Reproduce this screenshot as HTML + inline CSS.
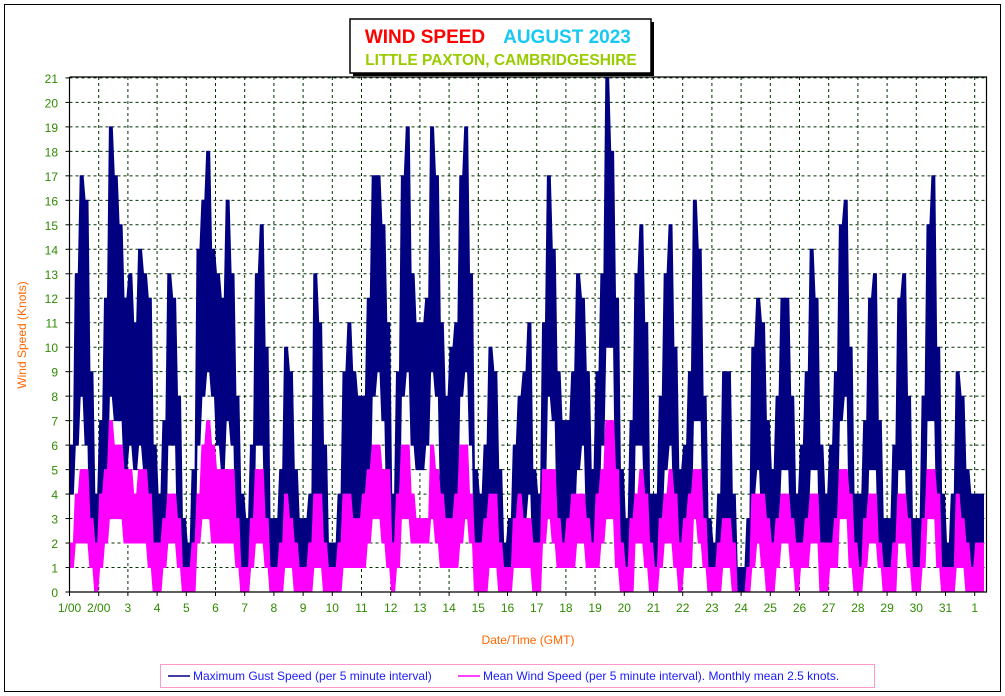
<!DOCTYPE html>
<html><head><meta charset="utf-8"><style>
body{margin:0;background:#fff;}
svg{display:block;font-family:"Liberation Sans",Arial,sans-serif;}
</style></head><body>
<svg id="chart" width="1005" height="696" viewBox="0 0 1005 696" xmlns="http://www.w3.org/2000/svg">
<rect x="4.5" y="4.5" width="996" height="687" fill="#fff" stroke="#000" stroke-width="1"/>
<g id="grid"></g>
<g id="series"></g>
<g id="axes"></g>
<g>
<rect x="353" y="22" width="301" height="54" fill="#000"/>
<rect x="350" y="19" width="301" height="54" fill="#fff" stroke="#000" stroke-width="1.5"/>
<text x="425" y="43" text-anchor="middle" font-size="19" font-weight="bold" fill="#ff0000">WIND SPEED</text>
<text x="567" y="43" text-anchor="middle" font-size="19" font-weight="bold" fill="#17c8f5">AUGUST 2023</text>
<text x="501" y="65" text-anchor="middle" font-size="15.5" font-weight="bold" fill="#99cc00">LITTLE PAXTON, CAMBRIDGESHIRE</text>
</g>
<text transform="translate(26,335) rotate(-90)" text-anchor="middle" font-size="12" fill="#ff6600">Wind Speed (Knots)</text>
<text x="528" y="644" text-anchor="middle" font-size="12" fill="#ff6600">Date/Time (GMT)</text>
<g>
<rect x="160.5" y="664.5" width="714" height="23" fill="#fff" stroke="#ff99cc" stroke-width="1"/>
<line x1="168" y1="676" x2="190" y2="676" stroke="#000080" stroke-width="1.5"/>
<text x="193" y="680" font-size="12" fill="#1a1aff">Maximum Gust Speed (per 5 minute interval)</text>
<line x1="458" y1="676" x2="480" y2="676" stroke="#ff00ff" stroke-width="1.5"/>
<text x="483" y="680" font-size="12" fill="#1a1aff">Mean Wind Speed (per 5 minute interval). Monthly mean 2.5 knots.</text>
</g>
</svg>
<script>
// 4-hourly bins, 6 per day, starting 1 Aug 00:00
const gustHigh=[6,13,17,16,9,4, 7,12,19,17,15,12, 13,11,14,13,12,6, 4,7,13,12,8,3, 2,5,14,16,18,14, 13,12,16,13,8,4, 3,6,13,15,10,3, 3,5,10,9,5,3, 3,4,13,11,6,2, 2,4,9,11,9,8, 8,12,17,17,15,11, 4,9,17,19,13,11, 11,12,19,17,11,8, 10,11,17,19,13,5, 4,6,10,9,5,2, 3,6,8,9,11,5, 4,11,17,14,9,7, 7,9,13,12,9,5, 9,13,21,18,12,5, 3,7,13,15,11,4, 4,8,13,15,10,5, 6,9,16,14,8,3, 2,4,9,9,4,1, 1,3,10,12,11,7, 5,8,12,12,8,4, 6,9,14,12,6,4, 6,9,15,16,10,4, 4,7,12,13,7,3, 3,6,12,13,8,3, 3,8,15,17,10,4, 2,4,9,8,5,4, 4,4];
const gustLow=[4,6,8,6,2,0, 2,5,8,7,7,5, 6,5,6,5,3,1, 1,2,6,6,2,0, 0,1,6,8,9,8, 6,5,7,6,2,0, 0,1,6,6,2,0, 1,1,3,3,1,0, 0,1,4,3,1,0, 0,1,3,4,3,3, 3,4,8,9,7,3, 0,3,8,9,6,5, 5,6,9,8,4,3, 3,4,8,9,6,1, 1,2,3,3,1,0, 0,2,3,3,4,1, 1,4,8,7,3,2, 2,3,5,6,3,1, 3,6,10,10,4,1, 0,1,6,6,3,0, 0,3,5,6,3,1, 1,3,7,7,2,0, 0,1,3,3,1,0, 0,0,4,5,3,2, 1,3,5,5,2,1, 2,3,5,5,1,1, 2,3,7,8,3,0, 0,2,5,5,2,0, 0,1,5,5,2,0, 0,2,7,7,3,1, 0,0,3,3,1,0, 1,1];
const meanHigh=[2,4,5,5,3,2, 4,5,7,6,6,5, 5,4,5,5,4,2, 2,3,4,4,3,1, 1,2,4,6,7,6, 5,5,5,5,3,1, 1,3,5,5,3,1, 1,2,4,3,2,1, 1,2,4,4,2,1, 1,2,4,4,3,3, 4,5,6,6,5,5, 2,4,6,6,4,3, 3,3,6,5,4,3, 3,4,6,6,4,2, 2,3,4,4,2,1, 1,3,4,3,3,2, 2,5,5,5,3,2, 3,4,4,4,3,2, 4,5,7,7,5,2, 1,3,4,5,4,2, 1,3,4,5,4,2, 3,4,5,5,3,1, 1,2,3,3,2,0, 0,1,4,4,4,3, 2,3,4,4,3,2, 2,3,4,4,2,2, 2,3,5,5,4,2, 1,3,4,4,2,1, 1,2,4,4,3,1, 1,3,5,5,4,1, 1,1,4,3,2,1, 2,2];
const meanLow=[1,2,2,2,1,0, 1,2,3,3,3,2, 2,2,2,2,1,0, 0,1,2,2,1,0, 0,0,2,3,3,2, 2,2,2,2,1,0, 0,1,2,2,1,0, 0,0,1,1,0,0, 0,0,1,1,0,0, 0,0,1,1,1,1, 1,2,3,3,2,1, 0,1,3,3,2,2, 2,2,3,2,1,1, 1,1,2,3,2,0, 0,0,1,1,0,0, 0,1,1,1,1,0, 0,2,3,2,1,1, 1,1,2,2,1,1, 1,2,3,3,1,0, 0,0,2,2,1,0, 0,1,2,2,1,0, 1,1,3,2,1,0, 0,0,1,1,0,0, 0,0,1,2,1,0, 0,1,2,2,1,0, 1,1,2,2,0,0, 1,1,3,3,1,0, 0,1,2,2,1,0, 0,0,2,2,1,0, 0,1,3,3,1,0, 0,0,1,1,0,0, 0,0];
const dayLabels=["1/00","2/00","3","4","5","6","7","8","9","10","11","12","13","14","15","16","17","18","19","20","21","22","23","24","25","26","27","28","29","30","31","1"];
const yTicks=[0,1,2,3,4,5,6,7,8,9,10,11,12,13,14,15,16,17,18,19,20,21];

const NS="http://www.w3.org/2000/svg";
const X0=69.5, DAYW=29.2, XR=986.5, Y0=592, YK=24.48;
const xs=t=>X0+t*DAYW;
const ys=v=>Y0-v*YK;
function mk(tag,attrs,parent){const e=document.createElementNS(NS,tag);for(const k in attrs)e.setAttribute(k,attrs[k]);parent.appendChild(e);return e;}
const grid=document.getElementById('grid'), axes=document.getElementById('axes'), series=document.getElementById('series');

yTicks.forEach(v=>{
  if(v>0){const l=mk('line',{x1:X0,x2:XR,y1:ys(v),y2:ys(v),stroke:'#003300','stroke-dasharray':'3,3','stroke-width':1},grid);
  
  }
  const tk=mk('line',{x1:X0-4,x2:X0,y1:ys(v),y2:ys(v),stroke:'#000'},axes);
  
  
  const tx=mk('text',{x:58,y:ys(v)+5,'text-anchor':'end','font-size':12,fill:'#2e8b00'},axes);
  tx.textContent=v;
  
  
});
dayLabels.forEach((lab,i)=>{
  const x=xs(i);
  if(i>0){const l=mk('line',{x1:x,x2:x,y1:77,y2:Y0,stroke:'#003300','stroke-dasharray':'3,3','stroke-width':1},grid);
  
  }
  const tk=mk('line',{x1:x,x2:x,y1:Y0,y2:Y0+4,stroke:'#000'},axes);
  
  
  const tx=mk('text',{x:x,y:Y0+20,'text-anchor':'middle','font-size':12,fill:'#2e8b00'},axes);
  tx.textContent=lab;
  
  
});
const fr=mk('path',{d:`M${X0},77 V${Y0} H${XR} V77 H${X0}`,fill:'none',stroke:'#000','stroke-width':1.2},axes);



function band(hi,lo,color,name){
  const n=hi.length, top=[], bot=[];
  for(let i=0;i<n;i++){
    const a=i/6+0.2/6, b=(i+1)/6-0.2/6;
    top.push(xs(a).toFixed(1)+','+ys(hi[i]).toFixed(1), xs(b).toFixed(1)+','+ys(hi[i]).toFixed(1));
    bot.push(xs(a).toFixed(1)+','+ys(lo[i]).toFixed(1), xs(b).toFixed(1)+','+ys(lo[i]).toFixed(1));
  }
  const pts=top.concat(bot.reverse());
  const p=mk('polygon',{points:pts.join(' '),fill:color,stroke:color,'stroke-width':1,'stroke-linejoin':'miter'},series);
  
  
}
band(gustHigh,gustLow,'#000080','gust-series');
band(meanHigh,meanLow,'#ff00ff','mean-series');
</script>
</body></html>
